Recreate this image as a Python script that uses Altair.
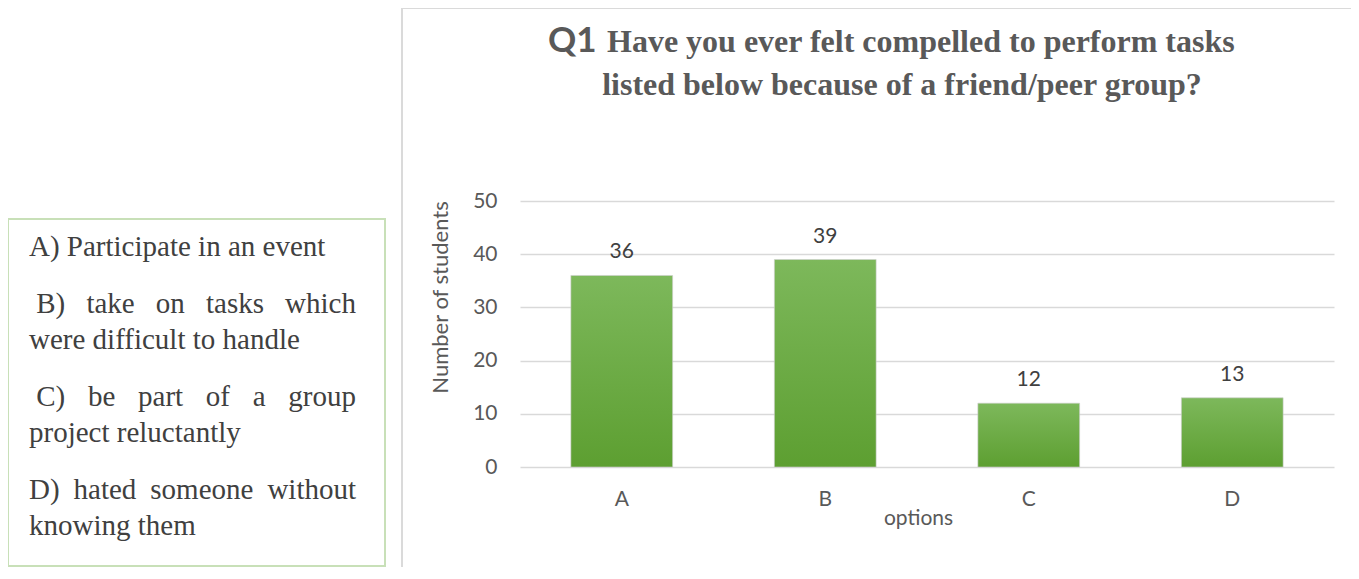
import altair as alt
import pandas as pd

# ---------------- data ----------------
options = ["A", "B", "C", "D"]
students = [36, 39, 12, 13]

title_q = "Q1"
title_line1 = "Have you ever felt compelled to perform tasks"
title_line2 = "listed below because of a friend/peer group?"

y_title = "Number of students"
x_title = "options"
y_ticks = [0, 10, 20, 30, 40, 50]

legend_paragraphs = [
    ["A) Participate in an event"],
    [" B) take on tasks which", "were difficult to handle"],
    [" C) be part of a group", "project reluctantly"],
    ["D) hated someone without", "knowing them"],
]

# ---------------- layout ----------------
PLOT_W, PLOT_H = 814, 266
OX, OY = 520, 201  # page position of plot origin

GREY = "#595959"
DARK = "#404040"

# Times metrics (em) for justification of the legend text
TW = {" ": .25, "A": .722, "B": .667, "C": .667, "D": .722, "P": .556, ")": .333,
      "a": .444, "b": .5, "c": .444, "d": .5, "e": .444, "f": .333, "g": .5,
      "h": .5, "i": .278, "j": .278, "k": .5, "l": .278, "m": .778, "n": .5,
      "o": .5, "p": .5, "r": .333, "s": .389, "t": .278, "u": .5, "v": .5,
      "w": .722, "y": .5}
LEG_FS = 29
LEG_LEFT = 29 - OX
LEG_RIGHT = 356 - OX
LINE_GAP = 36.5
PARA_GAP = 56.5
FIRST_BASE = 256 - OY


def tw(s):
    return sum(TW.get(c, .5) for c in s) * LEG_FS


rows = []
y = FIRST_BASE
for pi, para in enumerate(legend_paragraphs):
    if pi > 0:
        y += PARA_GAP - LINE_GAP
    for li, line in enumerate(para):
        if li > 0 or pi > 0:
            y += LINE_GAP
        lead = len(line) - len(line.lstrip(" "))
        x0 = LEG_LEFT + lead * TW[" "] * LEG_FS
        words = line.split()
        justify = (li < len(para) - 1) and len(words) > 1
        if justify:
            total = sum(tw(w) for w in words)
            gap = (LEG_RIGHT - x0 - total) / (len(words) - 1)
            x = x0
            for w in words:
                rows.append((w, x, y))
                x += tw(w) + gap
        else:
            rows.append((line.strip(), x0, y))

one = pd.DataFrame({"k": [0]})

frame = alt.Chart(one).mark_rect(fillOpacity=0, stroke="#dadada", strokeWidth=2).encode(
    x=alt.value(402 - OX), x2=alt.value(1400 - OX),
    y=alt.value(8 - OY), y2=alt.value(700 - OY))

box = alt.Chart(one).mark_rect(fillOpacity=0, stroke="#c8e0b8", strokeWidth=2).encode(
    x=alt.value(8 - OX), x2=alt.value(385 - OX),
    y=alt.value(219 - OY), y2=alt.value(566 - OY))

legend_layers = []
for t, x, y in rows:
    legend_layers.append(
        alt.Chart(pd.DataFrame({"t": [t]})).mark_text(
            font="Liberation Serif", fontSize=LEG_FS, color=DARK, align="left",
            baseline="alphabetic").encode(x=alt.value(x), y=alt.value(y), text="t:N"))

tdf_q = pd.DataFrame({"t": [title_q]})
tdf_1 = pd.DataFrame({"t": [title_line1]})
tdf_2 = pd.DataFrame({"t": [title_line2]})

t_q = alt.Chart(tdf_q).mark_text(font="Lato", fontWeight="bold", fontSize=35, color=GREY,
                                 align="left", baseline="alphabetic").encode(
    x=alt.value(548 - OX), y=alt.value(52 - OY), text="t:N")
t_1 = alt.Chart(tdf_1).mark_text(font="Liberation Serif", fontWeight="bold", fontSize=32,
                                 color=GREY, align="left", baseline="alphabetic").encode(
    x=alt.value(607 - OX), y=alt.value(52 - OY), text="t:N")
t_2 = alt.Chart(tdf_2).mark_text(font="Liberation Serif", fontWeight="bold", fontSize=32,
                                 color=GREY, align="center", baseline="alphabetic").encode(
    x=alt.value(902 - OX), y=alt.value(95 - OY), text="t:N")

df = pd.DataFrame({"option": options, "students": students})

xenc = alt.X("option:N", sort=options,
             scale=alt.Scale(paddingInner=0.5, paddingOuter=0.25),
             axis=alt.Axis(labelAngle=0, domain=False, ticks=False, labelPadding=32,
                           labelBaseline="middle", labelFont="Lato", labelFontSize=21,
                           labelColor=GREY, title=x_title, titleFont="Lato",
                           titleFontSize=21, titleFontWeight="normal", titleColor=GREY,
                           titleX=398, titleY=51, titleBaseline="middle"))
yenc = alt.Y("students:Q", scale=alt.Scale(domain=[0, 50]),
             axis=alt.Axis(values=y_ticks, grid=True, gridColor="#d9d9d9", gridWidth=1.5,
                           domain=False, ticks=False, labelPadding=23, labelFont="Lato",
                           labelFontSize=21, labelColor=GREY, title=y_title,
                           titleFont="Lato", titleFontSize=22, titleFontWeight="normal",
                           titleColor=GREY, titleAngle=270, titleX=-80, titleY=96,
                           titleBaseline="middle", titleAlign="center"))

bars = alt.Chart(df).mark_bar(
    stroke="#cfcfcf", strokeWidth=0.6,
    color=alt.Gradient(gradient="linear", x1=0, y1=0, x2=0, y2=1,
                       stops=[alt.GradientStop(color="#7db85b", offset=0),
                              alt.GradientStop(color="#5d9f31", offset=1)])
).encode(x=xenc, y=yenc)

labels = alt.Chart(df).mark_text(font="Lato", fontSize=21, color=DARK, dy=-17,
                                 baseline="alphabetic").encode(
    x=alt.X("option:N", sort=options), y="students:Q", text="students:Q")

chart = alt.layer(frame, box, *legend_layers, t_q, t_1, t_2, bars, labels).properties(
    width=PLOT_W, height=PLOT_H,
    autosize=alt.AutoSizeParams(type="none"),
    padding={"left": OX - 8, "top": OY - 8, "right": 17, "bottom": 100},
    background="white",
).configure_view(stroke=None)

chart.save("out.html", embed_options={"renderer": "svg", "actions": False})
